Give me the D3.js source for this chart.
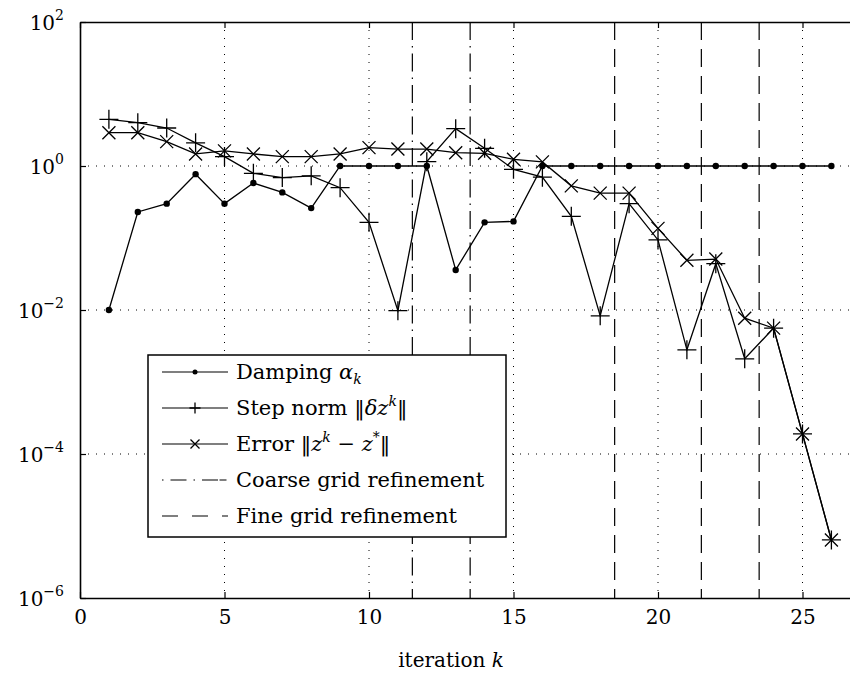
<!DOCTYPE html>
<html>
<head>
<meta charset="utf-8">
<script src="https://cdn.jsdelivr.net/npm/d3@7"></script>
<style>
  body { margin: 0; background: #fff; }
  svg text { font-family: "DejaVu Serif", serif; }
</style>
</head>
<body>
<svg id="chart" width="850" height="675"></svg>
<script>
// datos
const iterations = [1, 2, 3, 4, 5, 6, 7, 8, 9, 10, 11, 12, 13, 14, 15, 16, 17, 18, 19, 20, 21, 22, 23, 24, 25, 26];
const damping = [0.01, 0.23, 0.30, 0.77, 0.30, 0.58, 0.43, 0.26, 1, 1, 1, 1, 0.036, 0.165, 0.17, 1, 1, 1, 1, 1, 1, 1, 1, 1, 1, 1];
const stepNorm = [4.45, 4.0, 3.37, 2.1, 1.35, 0.79, 0.69, 0.73, 0.50, 0.165, 0.0098, 1.15, 3.3, 1.76, 0.9, 0.70, 0.2, 0.0083, 0.30, 0.094, 0.0028, 0.044, 0.0021, 0.0056, 1.9e-4, 6.4e-6];
const errorNorm = [2.9, 2.9, 2.18, 1.47, 1.62, 1.47, 1.35, 1.35, 1.47, 1.8, 1.72, 1.72, 1.53, 1.5, 1.24, 1.14, 0.53, 0.42, 0.42, 0.136, 0.049, 0.051, 0.0077, 0.0056, 1.9e-4, 6.4e-6];
const coarseRefinements = [11.5, 13.5];
const fineRefinements = [18.5, 21.5, 23.5];
const xTicks = [0, 5, 10, 15, 20, 25];
const yTicks = [1e2, 1e0, 1e-2, 1e-4, 1e-6];
const yTickExponents = ["2", "0", "\u22122", "\u22124", "\u22126"];

const svg = d3.select("#chart");
const margin = { top: 22, left: 80, bottom: 598 };
const FS = 20;

const x = d3.scaleLinear().domain([0, 27]).range([margin.left, margin.left + 27 * 28.9]);
const y = d3.scaleLog().domain([1e-6, 1e2]).range([margin.bottom, margin.top]);

const x0 = x.range()[0], x1 = x.range()[1];

// grilla punteada
svg.append("g").selectAll("line")
  .data(xTicks.filter(d => d > 0))
  .join("line")
  .attr("x1", d => x(d)).attr("x2", d => x(d))
  .attr("y1", margin.top).attr("y2", margin.bottom)
  .attr("stroke", "#000").attr("stroke-width", 1).attr("stroke-dasharray", "1,7");

svg.append("g").selectAll("line")
  .data(yTicks.slice(1, -1))
  .join("line")
  .attr("x1", x0).attr("x2", x1)
  .attr("y1", d => y(d)).attr("y2", d => y(d))
  .attr("stroke", "#000").attr("stroke-width", 1).attr("stroke-dasharray", "1,7");

// refinamientos
svg.append("g").selectAll("line")
  .data(coarseRefinements)
  .join("line")
  .attr("x1", d => x(d)).attr("x2", d => x(d))
  .attr("y1", margin.top).attr("y2", margin.bottom)
  .attr("stroke", "#000").attr("stroke-width", 1.2).attr("stroke-dasharray", "18,6,1.5,6");

svg.append("g").selectAll("line")
  .data(fineRefinements)
  .join("line")
  .attr("x1", d => x(d)).attr("x2", d => x(d))
  .attr("y1", margin.top).attr("y2", margin.bottom)
  .attr("stroke", "#000").attr("stroke-width", 1.2).attr("stroke-dasharray", "18,9");

// ejes
const axisB = svg.append("g")
  .attr("transform", `translate(0,${margin.bottom})`)
  .call(d3.axisBottom(x).tickValues(xTicks).tickSizeInner(-6).tickSizeOuter(0).tickPadding(12));
const axisT = svg.append("g")
  .attr("transform", `translate(0,${margin.top})`)
  .call(d3.axisTop(x).tickValues(xTicks).tickSizeInner(-6).tickSizeOuter(0).tickFormat(""));
const axisL = svg.append("g")
  .attr("transform", `translate(${margin.left},0)`)
  .call(d3.axisLeft(y).tickValues(yTicks).tickSizeInner(-6).tickSizeOuter(0).tickFormat(""));

[axisB, axisT, axisL].forEach(g => {
  g.select(".domain").attr("stroke-width", 1.6);
  g.selectAll(".tick line").attr("stroke-width", 1.2);
});
axisB.selectAll(".tick text").attr("font-size", FS).attr("fill", "#000");

// etiquetas eje y: 10^n
const yl = svg.append("g").selectAll("text")
  .data(yTicks)
  .join("text")
  .attr("x", margin.left - 16)
  .attr("y", d => y(d) + 8)
  .attr("text-anchor", "end")
  .attr("font-size", FS);
yl.append("tspan").text("10");
yl.append("tspan").attr("dy", -10).attr("font-size", 14).text((d, i) => yTickExponents[i]);

svg.append("text")
  .attr("x", 451).attr("y", 667)
  .attr("text-anchor", "middle").attr("font-size", FS)
  .call(t => {
    t.append("tspan").text("iteration ");
    t.append("tspan").attr("font-style", "italic").text("k");
  });

// series
const line = d3.line().x(d => x(d[0])).y(d => y(d[1]));
const zip = vals => iterations.map((k, i) => [k, vals[i]]);

function drawSeries(vals, marker) {
  const g = svg.append("g");
  g.append("path").datum(zip(vals)).attr("d", line)
    .attr("fill", "none").attr("stroke", "#000").attr("stroke-width", 1.3);
  const m = g.selectAll("g.m").data(zip(vals)).join("g")
    .attr("transform", d => `translate(${x(d[0])},${y(d[1])})`);
  marker(m);
}

const dotMarker = (m, r = 3.2) => m.append("circle").attr("r", r).attr("fill", "#000");
const plusMarker = (m, s = 9.5) => m.append("path").attr("d", `M${-s},0H${s}M0,${-s}V${s}`)
  .attr("stroke", "#000").attr("stroke-width", 1.3).attr("fill", "none");
const crossMarker = (m, s = 6.5) => m.append("path").attr("d", `M${-s},${-s}L${s},${s}M${-s},${s}L${s},${-s}`)
  .attr("stroke", "#000").attr("stroke-width", 1.3).attr("fill", "none");

drawSeries(damping, dotMarker);
drawSeries(stepNorm, plusMarker);
drawSeries(errorNorm, crossMarker);

// leyenda
const LFS = 21;
const legend = svg.append("g");
legend.append("rect")
  .attr("x", 148).attr("y", 355).attr("width", 358).attr("height", 182)
  .attr("fill", "#fff").attr("stroke", "#000").attr("stroke-width", 1.5);

const legendItems = [
  { type: "dot", parts: [["Damping ", ""], ["\u03b1", "i"], ["k", "sub"]] },
  { type: "plus", parts: [["Step norm \u2016", ""], ["\u03b4z", "i"], ["k", "sup"], ["\u2016", "back"]] },
  { type: "cross", parts: [["Error \u2016", ""], ["z", "i"], ["k", "sup"], [" \u2212 ", "back"], ["z", "i"], ["*", "sup"], ["\u2016", "back"]] },
  { type: "coarse", parts: [["Coarse grid refinement", ""]] },
  { type: "fine", parts: [["Fine grid refinement", ""]] }
];

legendItems.forEach((it, i) => {
  const cy = 372 + i * 36;
  const row = legend.append("g");
  const ln = row.append("line").attr("x1", 162).attr("x2", 228).attr("y1", cy).attr("y2", cy)
    .attr("stroke", "#000").attr("stroke-width", 1.2);
  const mk = row.append("g").attr("transform", `translate(195,${cy})`);
  if (it.type === "dot") dotMarker(mk, 2.5);
  if (it.type === "plus") plusMarker(mk, 5.5);
  if (it.type === "cross") crossMarker(mk, 4.5);
  if (it.type === "coarse") ln.attr("stroke-dasharray", "1.5,7,16,7,1.5,7,16");
  if (it.type === "fine") ln.attr("stroke-dasharray", "16,14");

  const t = row.append("text").attr("x", 236).attr("y", cy + 7).attr("font-size", LFS);
  let shift = 0;
  it.parts.forEach(([txt, kind]) => {
    const ts = t.append("tspan").text(txt);
    if (kind === "i") { ts.attr("font-style", "italic").attr("dy", -shift); shift = 0; }
    if (kind === "sub") { ts.attr("font-style", "italic").attr("font-size", 14).attr("dy", 5); shift = 5; }
    if (kind === "sup") { ts.attr("font-style", txt === "*" ? "normal" : "italic").attr("font-size", 14).attr("dy", -9); shift = -9; }
    if (kind === "back") { ts.attr("dy", -shift); shift = 0; }
  });
});
</script>
</body>
</html>
